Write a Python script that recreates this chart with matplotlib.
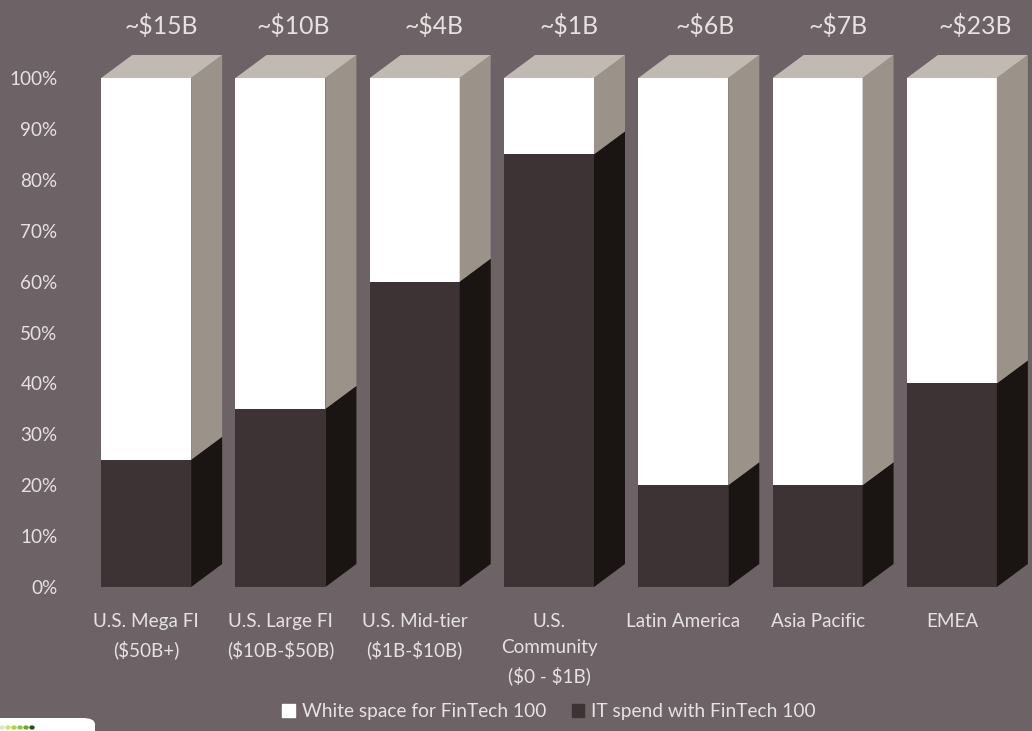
"""Stacked 3D-look columns: FinTech 100 share of IT spend by segment."""

import matplotlib
matplotlib.use("Agg")
import matplotlib.pyplot as plt
from matplotlib.patches import FancyBboxPatch, Patch, Polygon

categories = [
    "U.S. Mega FI\n($50B+)",
    "U.S. Large FI\n($10B-$50B)",
    "U.S. Mid-tier\n($1B-$10B)",
    "U.S.\nCommunity\n($0 - $1B)",
    "Latin America",
    "Asia Pacific",
    "EMEA",
]
totals = ["~$15B", "~$10B", "~$4B", "~$1B", "~$6B", "~$7B", "~$23B"]
it_spend = [25, 35, 60, 85, 20, 20, 40]
white_space = [75, 65, 40, 15, 80, 80, 60]
logo_dot_colors = ["#d9ecb0", "#c4e27f", "#a8d548", "#8cc63f", "#6aa82c", "#2f4a1c"]

BG = "#6d6265"
DARK = "#3e3334"
DARK_SIDE = "#1a1513"
TOP = "#c0bab2"
LIGHT_SIDE = "#9b928a"
TEXT = "#e6e2e2"

W, H = 1032, 731
plt.rcParams["font.family"] = ["Lato", "DejaVu Sans"]
plt.rcParams["text.parse_math"] = False  # labels hold literal dollar signs

fig = plt.figure(figsize=(W / 100, H / 100), dpi=100, facecolor=BG)
# axes box picked so 0-100 lands on pixel rows 587-78
ax = fig.add_axes([79 / W, 1 - 587 / H, 940 / W, 509 / H], facecolor="none")
ax.set_xlim(-0.5, 6.5)
ax.set_ylim(0, 100)

bar_w = 0.67
depth_x = 0.231
depth_y = 4.52
# the totals were hand placed in the original, so they drift off the columns
total_nudge_px = [0, -3, 4, 5, 6, 5, 7.5]

for i, (low, high) in enumerate(zip(it_spend, white_space)):
    ax.bar(i, low, width=bar_w, color=DARK, linewidth=0)
    ax.bar(i, high, width=bar_w, bottom=low, color="white", linewidth=0)
    right = i + bar_w / 2
    left = i - bar_w / 2
    top = low + high
    ax.add_patch(Polygon(
        [(right, 0), (right + depth_x, depth_y), (right + depth_x, low + depth_y), (right, low)],
        color=DARK_SIDE, linewidth=0, clip_on=False))
    ax.add_patch(Polygon(
        [(right, low), (right + depth_x, low + depth_y), (right + depth_x, top + depth_y), (right, top)],
        color=LIGHT_SIDE, linewidth=0, clip_on=False))
    ax.add_patch(Polygon(
        [(left, top), (left + depth_x, top + depth_y), (right + depth_x, top + depth_y), (right, top)],
        color=TOP, linewidth=0, clip_on=False))
    ax.annotate(totals[i], xy=(i + 0.115, 107.9), xytext=(total_nudge_px[i] * 0.72, 0),
                textcoords="offset points", ha="center", va="bottom",
                color=TEXT, fontsize=17.8, annotation_clip=False)

for side in ax.spines.values():
    side.set_visible(False)
ax.set_yticks(range(0, 101, 10), labels=[f"{v}%" for v in range(0, 101, 10)])
ax.set_xticks(range(len(categories)), labels=categories, linespacing=1.62)
ax.tick_params(axis="both", length=0, colors=TEXT, labelsize=13.6)
ax.tick_params(axis="x", pad=19)
ax.tick_params(axis="y", pad=15.5)

handles = [Patch(color="white", label="White space for FinTech 100"),
           Patch(color=DARK, label="IT spend with FinTech 100")]
fig.legend(handles=handles, ncol=2, frameon=False, labelcolor=TEXT, fontsize=13.8,
           loc="center", bbox_to_anchor=(549 / W, 1 - 711.5 / H),
           handlelength=0.65, handleheight=0.65, handletextpad=0.35, columnspacing=1.35)

# corner of the logo box, cut off by the image edge
fig.add_artist(FancyBboxPatch((-30 / W, -30 / H), 125 / W, 43 / H, transform=fig.transFigure,
                              boxstyle="round,pad=0,rounding_size=0.012", mutation_aspect=H / W,
                              facecolor="white", edgecolor="none"))
for n, c in enumerate(logo_dot_colors):
    fig.add_artist(plt.Circle(((2 + 6 * n) / W, 1 - 727.5 / H), 2 / W, color=c,
                              transform=fig.transFigure))

fig.savefig("out.png", dpi=100, facecolor=BG)
